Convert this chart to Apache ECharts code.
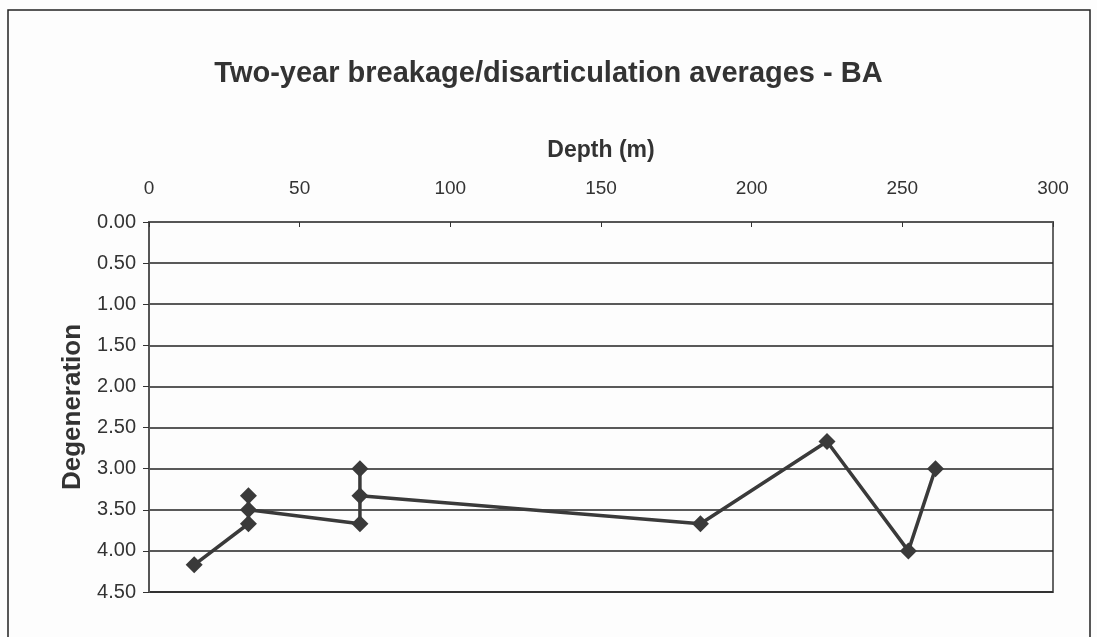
<!DOCTYPE html>
<html>
<head>
<meta charset="utf-8">
<script src="https://cdn.jsdelivr.net/npm/echarts@6/dist/echarts.min.js"></script>
<style>html,body{margin:0;padding:0;background:#fff;}#c{width:1097px;height:637px;}</style>
</head>
<body>
<div id="c"></div>
<script>
const depth = [15, 33, 33, 33, 70, 70, 70, 183, 225, 252, 261];
const degeneration = [4.17, 3.67, 3.33, 3.50, 3.67, 3.00, 3.33, 3.67, 2.67, 4.00, 3.00];
const xTicks = [0, 50, 100, 150, 200, 250, 300];
const yTicks = [0, 0.5, 1, 1.5, 2, 2.5, 3, 3.5, 4, 4.5];

const chart = echarts.init(document.getElementById('c'));
const font = '"Liberation Sans", Arial, sans-serif';
chart.setOption({
  backgroundColor: '#fdfdfd',
  animation: false,
  graphic: [{
    type: 'rect', shape: {x: 8, y: 10, width: 1082, height: 640},
    style: {fill: 'none', stroke: '#222', lineWidth: 1.5}, silent: true
  }],
  title: {
    text: 'Two-year breakage/disarticulation averages - BA',
    left: 'center', top: 54,
    textStyle: {fontFamily: font, fontSize: 29, fontWeight: 'bold', color: '#333'}
  },
  grid: {left: 149, right: 44, top: 222, height: 370, show: true, borderColor: '#666', borderWidth: 2, backgroundColor: 'transparent'},
  xAxis: {
    type: 'value', position: 'top', min: xTicks[0], max: xTicks[xTicks.length - 1], interval: 50,
    name: 'Depth (m)', nameLocation: 'middle', nameGap: 60,
    nameTextStyle: {fontFamily: font, fontSize: 23, fontWeight: 'bold', color: '#333'},
    axisLine: {show: true, lineStyle: {color: '#555', width: 2}},
    axisTick: {show: true, inside: true, length: 5, lineStyle: {color: '#333'}},
    axisLabel: {fontFamily: font, fontSize: 19, color: '#333', margin: 24},
    splitLine: {show: false}
  },
  yAxis: {
    type: 'value', inverse: true, min: yTicks[0], max: yTicks[yTicks.length - 1], interval: 0.5,
    name: 'Degeneration', nameLocation: 'middle', nameGap: 62,
    nameTextStyle: {fontFamily: font, fontSize: 26, fontWeight: 'bold', color: '#333'},
    axisLine: {show: true, lineStyle: {color: '#555', width: 2}},
    axisTick: {show: true, length: 6, lineStyle: {color: '#333'}},
    axisLabel: {fontFamily: font, fontSize: 20, color: '#333', margin: 13, formatter: v => v.toFixed(2)},
    splitLine: {show: true, lineStyle: {color: '#222', width: 1.5}}
  },
  series: [{
    type: 'line',
    data: depth.map((d, i) => [d, degeneration[i]]),
    symbol: 'diamond', symbolSize: 17,
    itemStyle: {color: '#3a3a3a'},
    lineStyle: {color: '#3a3a3a', width: 3.5}
  }]
});
</script>
</body>
</html>
